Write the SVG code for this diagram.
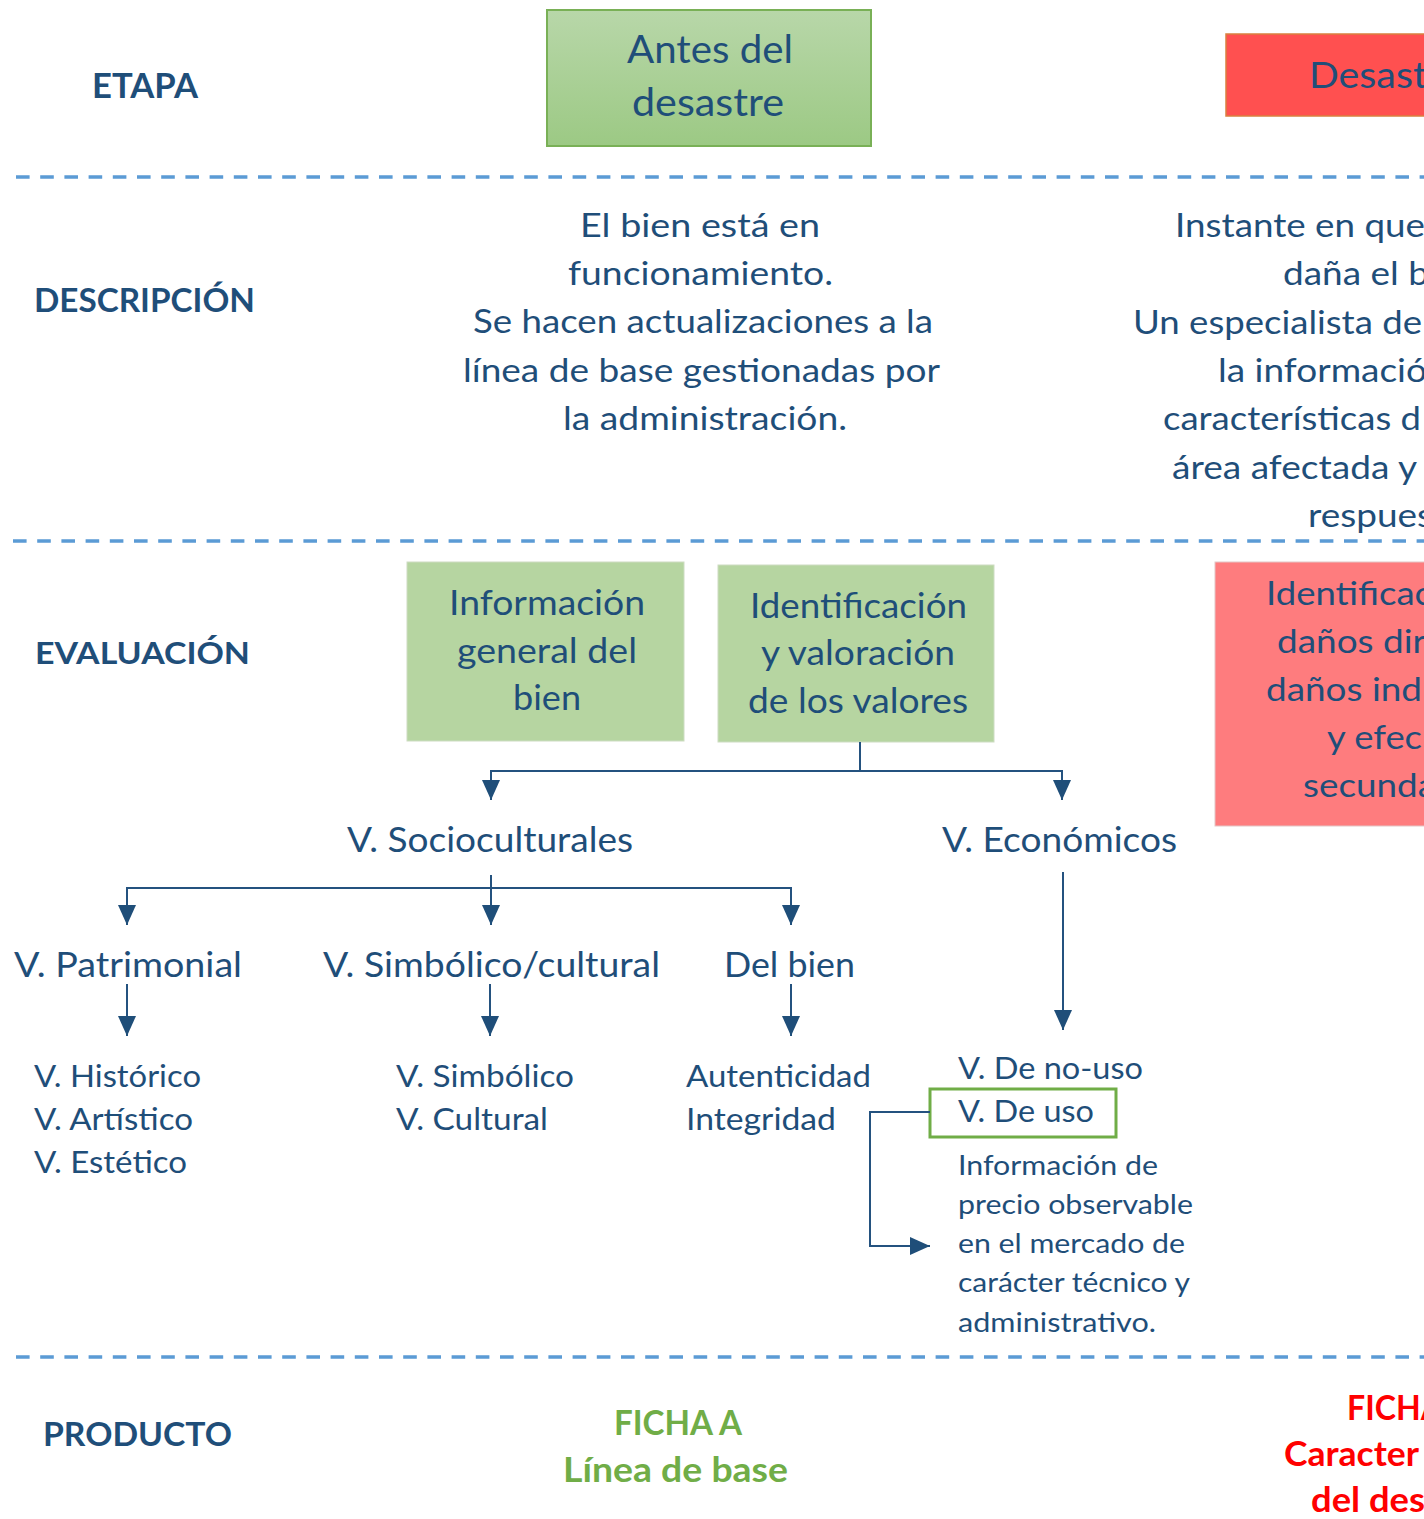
<svg xmlns="http://www.w3.org/2000/svg" width="1424" height="1519" viewBox="0 0 1424 1519">
<defs>
<linearGradient id="gTop" x1="0" y1="0" x2="0" y2="1">
<stop offset="0" stop-color="#b8d7a9"/>
<stop offset="1" stop-color="#9cc984"/>
</linearGradient>
<marker id="ah" viewBox="0 0 20 20" refX="20" refY="10" markerWidth="20" markerHeight="20" markerUnits="userSpaceOnUse" orient="auto">
<path d="M0,1 L20,10 L0,19 z" fill="#1f4e79"/>
</marker>
<style>
text{font-family:Lato,"Liberation Sans",sans-serif;fill:#1f4e79}
.lab{font-weight:700}
.bold{font-weight:700}
.dash{stroke:#5b9bd5;stroke-width:3.5;stroke-dasharray:13.6 10.6;fill:none}
.con{stroke:#24527f;stroke-width:2;fill:none}
.arr{marker-end:url(#ah)}
.gbox{fill:#b6d5a1;stroke:#cddcc2;stroke-width:1}
.rbox{fill:#fe7c7e;stroke:#e3c6c6;stroke-width:1}
.green{fill:#70ad47}
.red{fill:#ff0000}
</style>
</defs>
<rect width="1424" height="1519" fill="#ffffff"/>

<g id="separators">
<line class="dash" x1="16" y1="177" x2="1424" y2="177"/>
<line class="dash" x1="13" y1="541" x2="1424" y2="541"/>
<line class="dash" x1="16" y1="1357" x2="1424" y2="1357"/>
</g>

<g id="row-labels">
<text class="lab" x="92" y="98" font-size="34" textLength="106" lengthAdjust="spacingAndGlyphs">ETAPA</text>
<text class="lab" x="34" y="312" font-size="32" textLength="221" lengthAdjust="spacingAndGlyphs">DESCRIPCIÓN</text>
<text class="lab" x="35" y="664" font-size="31" textLength="215" lengthAdjust="spacingAndGlyphs">EVALUACIÓN</text>
<text class="lab" x="43" y="1446" font-size="33" textLength="189" lengthAdjust="spacingAndGlyphs">PRODUCTO</text>
</g>

<g id="antes">
<rect x="547" y="10" width="324" height="136" fill="url(#gTop)" stroke="#79b056" stroke-width="2"/>
<text x="627" y="63" font-size="39" textLength="166" lengthAdjust="spacingAndGlyphs">Antes del</text>
<text x="632" y="116" font-size="39" textLength="152" lengthAdjust="spacingAndGlyphs">desastre</text>
</g>

<g id="desastre">
<rect x="1226" y="34" width="210" height="82" fill="#ff5050" stroke="#d9803f" stroke-width="1.5"/>
<text x="1309" y="88" font-size="37" textLength="118" lengthAdjust="spacingAndGlyphs">Desast</text>
</g>

<g id="desc-antes" font-size="32">
<text x="580" y="237" textLength="240" lengthAdjust="spacingAndGlyphs">El bien está en</text>
<text x="568" y="285" textLength="265" lengthAdjust="spacingAndGlyphs">funcionamiento.</text>
<text x="473" y="333" textLength="460" lengthAdjust="spacingAndGlyphs">Se hacen actualizaciones a la</text>
<text x="463" y="382" textLength="477" lengthAdjust="spacingAndGlyphs">línea de base gestionadas por</text>
<text x="563" y="430" textLength="284" lengthAdjust="spacingAndGlyphs">la administración.</text>
</g>

<g id="desc-desastre" font-size="32">
<text x="1175" y="237" textLength="250" lengthAdjust="spacingAndGlyphs">Instante en que</text>
<text x="1283" y="285" textLength="146" lengthAdjust="spacingAndGlyphs">daña el b</text>
<text x="1133" y="334" textLength="289" lengthAdjust="spacingAndGlyphs">Un especialista de</text>
<text x="1218" y="382" textLength="209" lengthAdjust="spacingAndGlyphs">la informació</text>
<text x="1163" y="430" textLength="258" lengthAdjust="spacingAndGlyphs">características d</text>
<text x="1172" y="479" textLength="245" lengthAdjust="spacingAndGlyphs">área afectada y</text>
<text x="1308" y="527" textLength="125" lengthAdjust="spacingAndGlyphs">respues</text>
</g>

<g id="info-general">
<rect class="gbox" x="407" y="562" width="277" height="179"/>
<text x="449" y="615" font-size="35" textLength="196" lengthAdjust="spacingAndGlyphs">Información</text>
<text x="457" y="663" font-size="35" textLength="180" lengthAdjust="spacingAndGlyphs">general del</text>
<text x="513" y="710" font-size="35" textLength="68" lengthAdjust="spacingAndGlyphs">bien</text>
</g>

<g id="identificacion">
<rect class="gbox" x="718" y="565" width="276" height="177"/>
<text x="750" y="618" font-size="35" textLength="217" lengthAdjust="spacingAndGlyphs">Identificación</text>
<text x="761" y="665" font-size="35" textLength="194" lengthAdjust="spacingAndGlyphs">y valoración</text>
<text x="748" y="713" font-size="35" textLength="220" lengthAdjust="spacingAndGlyphs">de los valores</text>
</g>

<g id="danos">
<rect class="rbox" x="1215" y="562" width="220" height="264"/>
<text x="1266" y="605" font-size="33" textLength="166" lengthAdjust="spacingAndGlyphs">Identificac</text>
<text x="1277" y="653" font-size="33" textLength="149" lengthAdjust="spacingAndGlyphs">daños dir</text>
<text x="1266" y="701" font-size="33" textLength="156" lengthAdjust="spacingAndGlyphs">daños ind</text>
<text x="1327" y="749" font-size="33" textLength="95" lengthAdjust="spacingAndGlyphs">y efec</text>
<text x="1303" y="797" font-size="33" textLength="133" lengthAdjust="spacingAndGlyphs">secunda</text>
</g>

<g id="socioculturales">
<text x="347" y="852" font-size="34" textLength="286" lengthAdjust="spacingAndGlyphs">V. Socioculturales</text>
</g>
<g id="economicos">
<text x="942" y="852" font-size="34" textLength="235" lengthAdjust="spacingAndGlyphs">V. Económicos</text>
</g>

<g id="patrimonial">
<text x="14" y="977" font-size="35" textLength="228" lengthAdjust="spacingAndGlyphs">V. Patrimonial</text>
</g>
<g id="simbolico-cultural">
<text x="323" y="977" font-size="35" textLength="337" lengthAdjust="spacingAndGlyphs">V. Simbólico/cultural</text>
</g>
<g id="del-bien">
<text x="724" y="977" font-size="35" textLength="131" lengthAdjust="spacingAndGlyphs">Del bien</text>
</g>

<g id="patrimonial-list" font-size="31">
<text x="34" y="1087" textLength="167" lengthAdjust="spacingAndGlyphs">V. Histórico</text>
<text x="34" y="1130" textLength="159" lengthAdjust="spacingAndGlyphs">V. Artístico</text>
<text x="34" y="1173" textLength="153" lengthAdjust="spacingAndGlyphs">V. Estético</text>
</g>
<g id="simbolico-list" font-size="31">
<text x="396" y="1087" textLength="178" lengthAdjust="spacingAndGlyphs">V. Simbólico</text>
<text x="396" y="1130" textLength="152" lengthAdjust="spacingAndGlyphs">V. Cultural</text>
</g>
<g id="bien-list" font-size="31">
<text x="686" y="1087" textLength="185" lengthAdjust="spacingAndGlyphs">Autenticidad</text>
<text x="686" y="1130" textLength="150" lengthAdjust="spacingAndGlyphs">Integridad</text>
</g>

<g id="no-uso">
<text x="958" y="1079" font-size="31" textLength="185" lengthAdjust="spacingAndGlyphs">V. De no-uso</text>
</g>
<g id="de-uso">
<rect x="930" y="1089" width="186" height="48" fill="none" stroke="#70ad47" stroke-width="3"/>
<text x="958" y="1122" font-size="31" textLength="136" lengthAdjust="spacingAndGlyphs">V. De uso</text>
</g>
<g id="precio-info" font-size="27">
<text x="958" y="1175" textLength="200" lengthAdjust="spacingAndGlyphs">Información de</text>
<text x="958" y="1214" textLength="235" lengthAdjust="spacingAndGlyphs">precio observable</text>
<text x="958" y="1253" textLength="227" lengthAdjust="spacingAndGlyphs">en el mercado de</text>
<text x="958" y="1292" textLength="232" lengthAdjust="spacingAndGlyphs">carácter técnico y</text>
<text x="958" y="1332" textLength="198" lengthAdjust="spacingAndGlyphs">administrativo.</text>
</g>

<g id="ficha-a">
<text class="bold green" x="614" y="1435" font-size="34" textLength="128" lengthAdjust="spacingAndGlyphs">FICHA A</text>
<text class="bold green" x="563" y="1482" font-size="34" textLength="225" lengthAdjust="spacingAndGlyphs">Línea de base</text>
</g>
<g id="ficha-b">
<text class="bold red" x="1347" y="1420" font-size="34" textLength="96" lengthAdjust="spacingAndGlyphs">FICHA</text>
<text class="bold red" x="1284" y="1466" font-size="34" textLength="135" lengthAdjust="spacingAndGlyphs">Caracter</text>
<text class="bold red" x="1311" y="1512" font-size="34" textLength="114" lengthAdjust="spacingAndGlyphs">del des</text>
</g>

<g id="connectors">
<path class="con" d="M860,742 V771"/>
<path class="con arr" d="M860,771 H491 V800"/>
<path class="con arr" d="M860,771 H1062 V800"/>
<path class="con arr" d="M491,875 V925"/>
<path class="con arr" d="M491,888 H127 V925" stroke-width="2.5"/>
<path class="con arr" d="M491,888 H791 V925" stroke-width="2.5"/>
<path class="con arr" d="M127,984 V1036"/>
<path class="con arr" d="M490,984 V1036"/>
<path class="con arr" d="M791,984 V1036"/>
<path class="con arr" d="M1063,872 V1030"/>
<path class="con arr" d="M930,1112 H870 V1246 H930"/>
</g>
</svg>
